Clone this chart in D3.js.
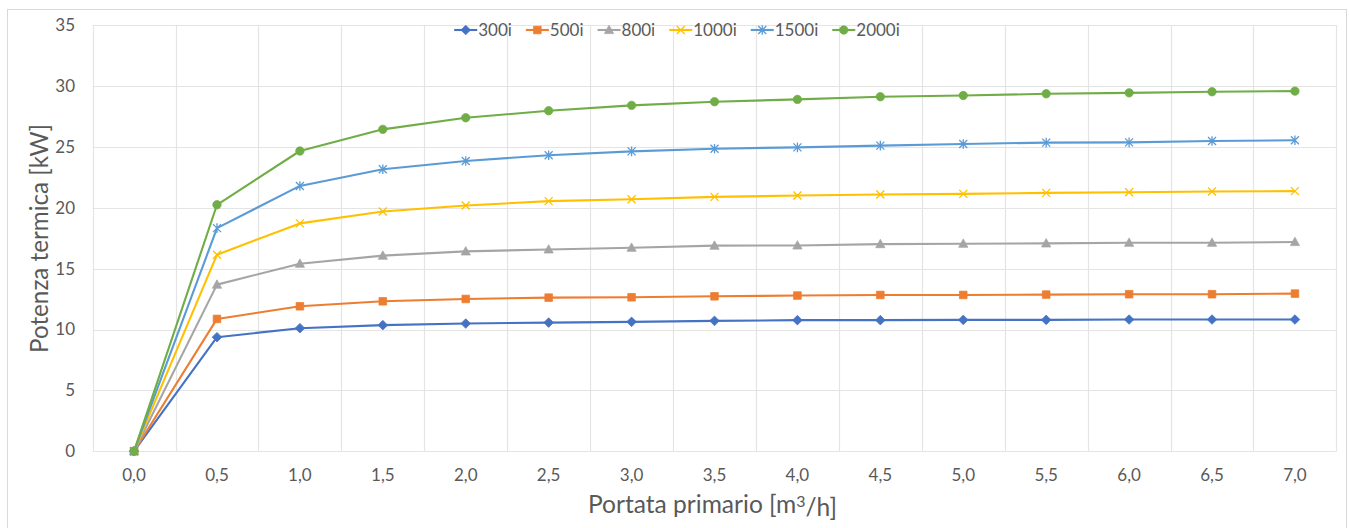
<!DOCTYPE html>
<html><head><meta charset="utf-8">
<script src="https://cdn.jsdelivr.net/npm/d3@7"></script>
<style>
html,body{margin:0;padding:0;background:#fff;}
svg{display:block;}
text{font-family:Lato,"Open Sans",sans-serif;}
</style>
</head><body>
<svg id="c" width="1349" height="528"></svg>
<script>
const categories = ["0,0","0,5","1,0","1,5","2,0","2,5","3,0","3,5","4,0","4,5","5,0","5,5","6,0","6,5","7,0"];
const seriesNames = ["300i","500i","800i","1000i","1500i","2000i"];
const s300  = [0, 9.37, 10.11, 10.36, 10.49, 10.57, 10.63, 10.71, 10.77, 10.77, 10.79, 10.79, 10.82, 10.82, 10.82];
const s500  = [0, 10.87, 11.91, 12.32, 12.51, 12.62, 12.65, 12.73, 12.79, 12.84, 12.84, 12.87, 12.90, 12.90, 12.95];
const s800  = [0, 13.69, 15.41, 16.07, 16.42, 16.58, 16.72, 16.89, 16.91, 17.02, 17.05, 17.08, 17.13, 17.13, 17.19];
const s1000 = [0, 16.15, 18.72, 19.70, 20.19, 20.55, 20.71, 20.90, 21.01, 21.09, 21.15, 21.23, 21.28, 21.34, 21.37];
const s1500 = [0, 18.33, 21.80, 23.17, 23.85, 24.32, 24.64, 24.86, 24.97, 25.11, 25.25, 25.36, 25.38, 25.49, 25.55];
const s2000 = [0, 20.25, 24.67, 26.45, 27.40, 27.98, 28.42, 28.72, 28.91, 29.13, 29.23, 29.37, 29.45, 29.54, 29.59];
const yTicks = [0,5,10,15,20,25,30,35];
const yTitle = "Potenza termica [kW]";
const xTitleMain = "Portata primario [m";
const xTitleSup = "3";
const xTitleEnd = "/h]";

const seriesValues = [s300, s500, s800, s1000, s1500, s2000];
const colors = ["#4472C4","#ED7D31","#A5A5A5","#FFC000","#5B9BD5","#70AD47"];
const markers = ["diamond","square","triangle","x","star","circle"];

const svg = d3.select("#c");
const L = 92.6, R = 1336.4, T = 25.3, B = 451.2;
const grid = "#E4E4E4", txt = "#595959";

svg.append("rect").attr("x",7.5).attr("y",9.5).attr("width",1339).attr("height",540)
  .attr("fill","#fff").attr("stroke","#D9D9D9").attr("stroke-width",1);

const x = d3.scaleBand().domain(categories).range([L, R]).padding(0);
const y = d3.scaleLinear().domain([0,35]).range([B, T]);
const cx = c => x(c) + x.bandwidth()/2;

svg.append("g").selectAll("line").data(yTicks).join("line")
  .attr("x1",L).attr("x2",R).attr("y1",d=>Math.round(y(d))+0.5).attr("y2",d=>Math.round(y(d))+0.5)
  .attr("stroke",grid).attr("stroke-width",1.2);
const bounds = categories.map(c => x(c)).concat([R]);
svg.append("g").selectAll("line").data(bounds).join("line")
  .attr("x1",d=>Math.round(d)+0.5).attr("x2",d=>Math.round(d)+0.5).attr("y1",T).attr("y2",B)
  .attr("stroke",grid).attr("stroke-width",1.2);

svg.append("g").selectAll("text").data(yTicks).join("text")
  .attr("x",75).attr("y",d=>y(d)).attr("dy","0.35em").attr("text-anchor","end")
  .attr("font-size",17).attr("fill",txt).text(d=>d);
svg.append("g").selectAll("text").data(categories).join("text")
  .attr("x",d=>cx(d)).attr("y",481).attr("text-anchor","middle")
  .attr("font-size",17).attr("fill",txt).text(d=>d);

function fit(sel, target){
  sel.attr("font-size",100);
  const w = sel.node().getComputedTextLength();
  sel.attr("font-size", 100*target/w);
}
const yt = svg.append("text").attr("text-anchor","middle").attr("fill",txt)
  .attr("transform","translate(48,238.5) rotate(-90)").text(yTitle);
fit(yt, 229);
const xt = svg.append("text").attr("text-anchor","middle").attr("fill",txt).attr("x",712.5).attr("y",513);
xt.append("tspan").text(xTitleMain);
xt.append("tspan").attr("class","sup").attr("dy","-0.4em").text(xTitleSup);
xt.append("tspan").attr("dy","0.4em").text(xTitleEnd);
xt.attr("font-size",100);
xt.select(".sup").attr("font-size",65);
const wx = xt.node().getComputedTextLength();
xt.attr("font-size", 100*249/wx);
xt.select(".sup").attr("font-size", 65*249/wx);

function markerPath(type){
  const p = d3.path();
  if(type==="diamond"){p.moveTo(0,-4.8);p.lineTo(4.8,0);p.lineTo(0,4.8);p.lineTo(-4.8,0);p.closePath();}
  else if(type==="square"){p.rect(-3.8,-3.8,7.6,7.6);}
  else if(type==="triangle"){p.moveTo(0,-4.8);p.lineTo(4.6,3.6);p.lineTo(-4.6,3.6);p.closePath();}
  else if(type==="x"){p.moveTo(-4,-4);p.lineTo(4,4);p.moveTo(-4,4);p.lineTo(4,-4);}
  else if(type==="star"){p.moveTo(-4,-4);p.lineTo(4,4);p.moveTo(-4,4);p.lineTo(4,-4);p.moveTo(0,-4.8);p.lineTo(0,4.8);}
  else if(type==="circle"){p.arc(0,0,4.2,0,2*Math.PI);}
  return p.toString();
}
function drawMarker(g, type, color){
  const stroked = (type==="x"||type==="star");
  g.append("path").attr("d",markerPath(type))
    .attr("fill", stroked ? "none" : color)
    .attr("stroke", color).attr("stroke-width", stroked ? 1.3 : 0.75);
}

const line = d3.line().x((d,i)=>cx(categories[i])).y(d=>y(d));
seriesValues.forEach((vals, si) => {
  const g = svg.append("g");
  g.append("path").attr("d", line(vals)).attr("fill","none")
    .attr("stroke", colors[si]).attr("stroke-width",2.1).attr("stroke-linejoin","round");
  vals.forEach((v,i) => {
    const mg = g.append("g").attr("transform",`translate(${cx(categories[i])},${y(v)})`);
    drawMarker(mg, markers[si], colors[si]);
  });
});

const lg = svg.append("g");
let lx = 0;
seriesNames.forEach((n, si) => {
  const it = lg.append("g").attr("transform",`translate(${lx},0)`);
  it.append("line").attr("x1",0).attr("x2",23).attr("y1",0).attr("y2",0)
    .attr("stroke",colors[si]).attr("stroke-width",2.1);
  const mg = it.append("g").attr("transform","translate(11.5,0)");
  drawMarker(mg, markers[si], colors[si]);
  const t = it.append("text").attr("x",24).attr("y",0).attr("dy","0.35em")
    .attr("font-size",17).attr("fill",txt).text(n);
  lx += 24 + t.node().getComputedTextLength() + 14;
});
const lw = lx - 14;
lg.attr("transform",`translate(${677 - lw/2},30)`);
</script>
</body></html>
